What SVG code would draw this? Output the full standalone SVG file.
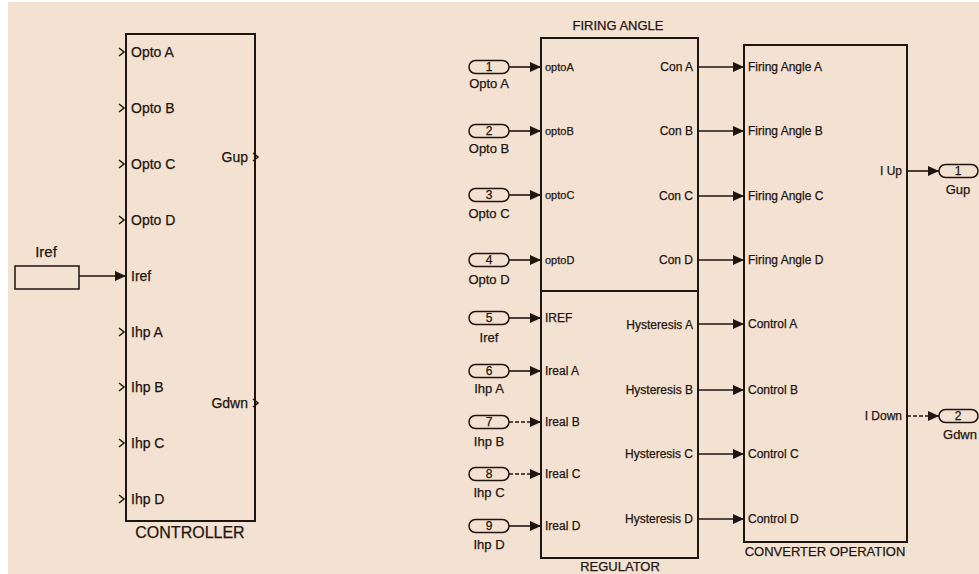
<svg xmlns="http://www.w3.org/2000/svg" width="979" height="574" viewBox="0 0 979 574">
<defs>
<marker id="ah" markerUnits="userSpaceOnUse" markerWidth="12" markerHeight="11" refX="11" refY="5" orient="auto">
<path d="M0,0 L11,5 L0,10 z" fill="#1e1410"/>
</marker>
<style>
.blk{fill:none;stroke:#1e1410;stroke-width:2}
.t{font-family:"Liberation Sans",Arial,sans-serif;fill:#1e1410;stroke:#1e1410;stroke-width:0.25}
.l14{font-size:14px}
.l12{font-size:12px}
.l11{font-size:11px}
.l13{font-size:13px}
.l15{font-size:15px}
.l16{font-size:16px}
.mid{text-anchor:middle}
.end{text-anchor:end}
.chev{fill:none;stroke:#1e1410;stroke-width:1.5}
.port{fill:none;stroke:#1e1410;stroke-width:1.5}
.wire{fill:none;stroke:#1e1410;stroke-width:1.6;marker-end:url(#ah)}
.dash{stroke-dasharray:4 2}
</style>
</defs>
<rect x="0" y="0" width="979" height="574" fill="#ffffff"/>
<rect x="8" y="2" width="971" height="572" fill="#f3e2d2"/>

<g id="controller">
<rect class="blk" x="126" y="34" width="129" height="487"/>
<g class="t l14">
<text x="131" y="57">Opto A</text>
<text x="131" y="113">Opto B</text>
<text x="131" y="169">Opto C</text>
<text x="131" y="225">Opto D</text>
<text x="131" y="281">Iref</text>
<text x="131" y="337">Ihp A</text>
<text x="131" y="392">Ihp B</text>
<text x="131" y="448">Ihp C</text>
<text x="131" y="504">Ihp D</text>
<text class="end" x="248" y="162">Gup</text>
<text class="end" x="248" y="408">Gdwn</text>
</g>
<g class="chev">
<polyline points="119,48 124,52 119,56"/>
<polyline points="119,104 124,108 119,112"/>
<polyline points="119,160 124,164 119,168"/>
<polyline points="119,216 124,220 119,224"/>
<polyline points="119,328 124,332 119,336"/>
<polyline points="119,383 124,387 119,391"/>
<polyline points="119,439 124,443 119,447"/>
<polyline points="119,495 124,499 119,503"/>
<polyline points="253,153 258,157 253,161"/>
<polyline points="253,399 258,403 253,407"/>
</g>
<text class="t l16 mid" x="190" y="538">CONTROLLER</text>
</g>

<g id="iref-const">
<rect x="15" y="266" width="64" height="23" fill="none" stroke="#1e1410" stroke-width="1.5"/>
<text class="t l15 mid" x="46" y="257">Iref</text>
</g>

<g id="firing-angle">
<rect class="blk" x="541" y="38" width="157" height="253"/>
<text class="t l13 mid" x="618" y="30">FIRING ANGLE</text>
<g class="t l11">
<text x="545" y="71">optoA</text>
<text x="545" y="135">optoB</text>
<text x="545" y="199">optoC</text>
<text x="545" y="264">optoD</text>
</g>
<g class="t l12 end">
<text x="693" y="71">Con A</text>
<text x="693" y="135">Con B</text>
<text x="693" y="200">Con C</text>
<text x="693" y="264">Con D</text>
</g>
</g>

<g id="regulator">
<rect class="blk" x="541" y="291" width="157" height="267"/>
<text class="t l13 mid" x="620" y="571">REGULATOR</text>
<g class="t l12">
<text x="545" y="322">IREF</text>
<text x="545" y="375">Ireal A</text>
<text x="545" y="426">Ireal B</text>
<text x="545" y="478">Ireal C</text>
<text x="545" y="530">Ireal D</text>
</g>
<g class="t l12 end">
<text x="693" y="329">Hysteresis A</text>
<text x="693" y="394">Hysteresis B</text>
<text x="693" y="458">Hysteresis C</text>
<text x="693" y="523">Hysteresis D</text>
</g>
</g>

<g id="converter-operation">
<rect class="blk" x="744" y="45" width="163" height="497"/>
<text class="t l13 mid" x="825" y="556">CONVERTER OPERATION</text>
<g class="t l12">
<text x="748" y="71">Firing Angle A</text>
<text x="748" y="135">Firing Angle B</text>
<text x="748" y="200">Firing Angle C</text>
<text x="748" y="264">Firing Angle D</text>
<text x="748" y="328">Control A</text>
<text x="748" y="394">Control B</text>
<text x="748" y="458">Control C</text>
<text x="748" y="523">Control D</text>
</g>
<g class="t l12 end">
<text x="902" y="175">I Up</text>
<text x="902" y="420">I Down</text>
</g>
</g>

<g id="inports">
<g class="port">
<rect x="469" y="60.5" width="40" height="13" rx="6.5"/>
<rect x="469" y="124.5" width="40" height="13" rx="6.5"/>
<rect x="469" y="188.5" width="40" height="13" rx="6.5"/>
<rect x="469" y="253.5" width="40" height="13" rx="6.5"/>
<rect x="469" y="311.5" width="40" height="13" rx="6.5"/>
<rect x="469" y="364.5" width="40" height="13" rx="6.5"/>
<rect x="469" y="415.5" width="40" height="13" rx="6.5"/>
<rect x="469" y="467.5" width="40" height="13" rx="6.5"/>
<rect x="469" y="519.5" width="40" height="13" rx="6.5"/>
</g>
<g class="t l12 mid">
<text x="489" y="71">1</text>
<text x="489" y="135">2</text>
<text x="489" y="199">3</text>
<text x="489" y="264">4</text>
<text x="489" y="322">5</text>
<text x="489" y="375">6</text>
<text x="489" y="426">7</text>
<text x="489" y="478">8</text>
<text x="489" y="530">9</text>
</g>
<g class="t l13 mid">
<text x="489" y="88">Opto A</text>
<text x="489" y="153">Opto B</text>
<text x="489" y="218">Opto C</text>
<text x="489" y="284">Opto D</text>
<text x="489" y="342">Iref</text>
<text x="489" y="393">Ihp A</text>
<text x="489" y="446">Ihp B</text>
<text x="489" y="497">Ihp C</text>
<text x="489" y="549">Ihp D</text>
</g>
</g>

<g id="outports">
<rect class="port" x="939" y="164.5" width="39" height="13" rx="6.5"/>
<rect class="port" x="939" y="409.5" width="39" height="13" rx="6.5"/>
<text class="t l12 mid" x="958" y="175">1</text>
<text class="t l12 mid" x="958" y="420">2</text>
<text class="t l13 mid" x="958" y="194">Gup</text>
<text class="t l13 mid" x="960" y="439">Gdwn</text>
</g>

<g id="connectors">
<line class="wire" x1="79" y1="276" x2="126" y2="276"/>
<line class="wire" x1="509" y1="67" x2="541" y2="67"/>
<line class="wire" x1="509" y1="131" x2="541" y2="131"/>
<line class="wire" x1="509" y1="195" x2="541" y2="195"/>
<line class="wire" x1="509" y1="260" x2="541" y2="260"/>
<line class="wire" x1="509" y1="318" x2="541" y2="318"/>
<line class="wire" x1="509" y1="371" x2="541" y2="371"/>
<line class="wire dash" x1="509" y1="422" x2="541" y2="422"/>
<line class="wire dash" x1="509" y1="474" x2="541" y2="474"/>
<line class="wire" x1="509" y1="526" x2="541" y2="526"/>
<line class="wire" x1="698" y1="67" x2="744" y2="67"/>
<line class="wire" x1="698" y1="131" x2="744" y2="131"/>
<line class="wire" x1="698" y1="196" x2="744" y2="196"/>
<line class="wire" x1="698" y1="260" x2="744" y2="260"/>
<line class="wire" x1="698" y1="324" x2="744" y2="324"/>
<line class="wire" x1="698" y1="390" x2="744" y2="390"/>
<line class="wire" x1="698" y1="454" x2="744" y2="454"/>
<line class="wire" x1="698" y1="519" x2="744" y2="519"/>
<line class="wire" x1="907" y1="171" x2="939" y2="171"/>
<line class="wire dash" x1="907" y1="416" x2="939" y2="416"/>
</g>
</svg>
